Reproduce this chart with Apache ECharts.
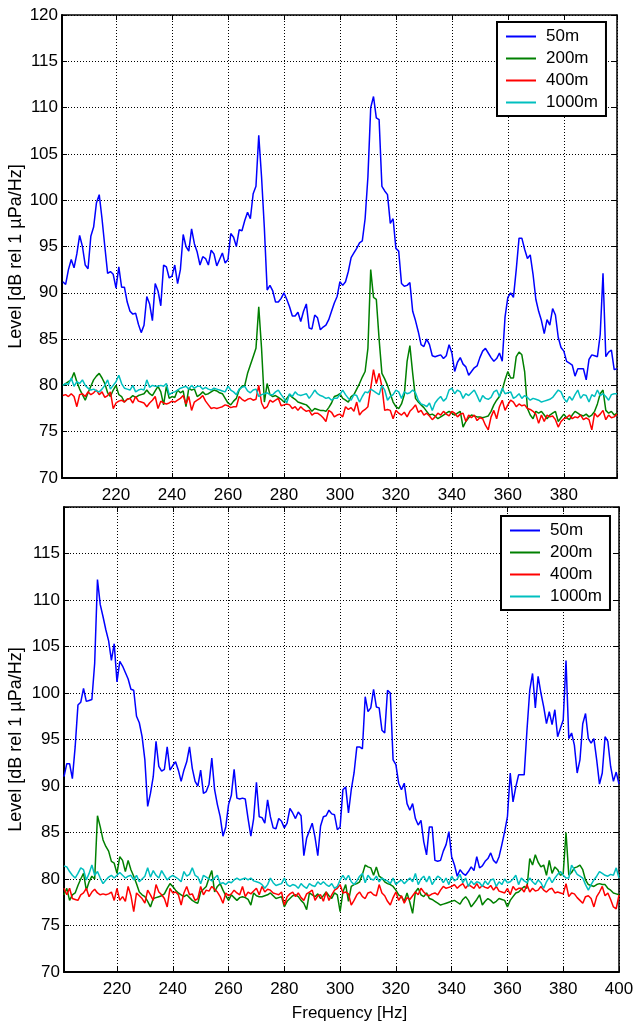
<!DOCTYPE html>
<html><head><meta charset="utf-8">
<script src="https://cdn.jsdelivr.net/npm/echarts@6/dist/echarts.min.js"></script>
<style>html,body{margin:0;padding:0;background:#fff}#c{width:635px;height:1025px}</style>
</head><body><div id="c"></div>
<script>
// ---------- data ----------
const seriesNames = ['50m', '200m', '400m', '1000m'];
const yTickValues = [70, 75, 80, 85, 90, 95, 100, 105, 110, 115, 120];
const xTickValues = [220, 240, 260, 280, 300, 320, 340, 360, 380, 400];
const topStartHz = 201;     // first frequency bin of the upper panel, 1 Hz steps
const bottomStartHz = 201;  // first frequency bin of the lower panel, 1 Hz steps

// upper panel (201..399 Hz)
const top50m = [
91.2,90.9,92.5,93.6,92.7,94.2,96.2,95.0,93.0,92.6,
96.1,97.1,99.7,100.6,98.0,95.0,92.1,92.3,92.0,90.5,
92.8,90.6,90.6,89.0,88.0,87.7,87.8,86.6,85.7,86.5,
89.6,88.8,87.0,91.0,90.2,88.6,93.0,92.8,91.6,91.8,
93.0,91.0,92.5,96.3,95.0,94.5,96.9,95.3,94.4,93.0,
93.9,93.7,93.0,94.6,94.2,92.9,93.6,94.3,93.2,93.6,
96.4,96.0,95.0,96.8,96.7,97.8,98.7,98.0,100.7,101.5,
107.0,102.5,97.0,90.3,90.8,90.2,89.0,89.0,89.4,90.0,
89.3,88.5,87.5,87.5,87.9,86.9,88.0,88.8,86.2,86.1,
87.6,87.3,86.0,86.3,86.5,87.1,88.0,88.9,89.6,91.2,
90.8,91.2,92.3,93.8,94.3,94.8,95.4,95.6,98.0,102.5,
110.0,111.2,108.9,108.7,101.5,101.0,100.6,97.5,98.0,94.8,
94.5,91.0,90.7,90.8,91.1,88.0,87.0,85.8,84.4,84.2,
85.0,84.4,83.2,83.1,83.2,83.3,82.9,83.2,84.4,83.5,
81.5,82.5,83.0,82.3,82.0,81.1,81.5,81.9,82.1,83.0,
83.7,84.0,83.5,83.0,82.6,82.9,83.5,82.6,87.4,89.5,
90.0,89.5,92.5,95.9,95.9,94.7,93.7,94.1,92.0,89.3,
88.0,87.0,85.6,87.1,86.5,88.3,87.6,85.2,84.1,83.7,
82.6,82.4,82.2,81.0,81.8,81.8,81.8,80.6,82.8,83.3,
83.2,83.1,85.5,92.1,83.1,83.6,83.8,81.7,81.8];
const top200m = [
80.0,80.2,80.4,80.6,81.4,80.4,79.6,79.0,78.4,79.2,
79.9,80.6,81.0,81.3,80.8,80.2,79.2,78.8,79.5,80.0,
79.0,78.8,78.2,78.5,78.6,78.9,78.7,78.9,79.0,79.1,
79.5,79.1,78.9,79.4,79.9,79.3,77.9,79.9,78.6,78.8,
78.7,79.5,79.2,79.4,77.7,79.7,79.5,79.6,78.8,79.0,
79.3,79.0,79.1,79.3,79.5,79.4,79.2,79.1,78.6,78.1,
77.9,78.3,78.6,79.5,79.9,80.0,81.3,82.2,83.1,84.0,
88.5,84.0,78.2,80.2,79.0,78.8,78.9,78.7,78.5,78.2,
78.6,79.0,78.7,78.5,78.2,78.1,78.0,77.9,77.6,77.2,
77.5,77.4,77.3,77.3,77.2,77.6,78.1,78.8,78.9,79.1,
78.6,78.4,78.2,78.8,79.0,79.6,80.2,80.9,81.5,84.0,
92.5,89.5,89.3,85.0,81.3,80.7,80.0,79.1,78.2,77.7,
77.5,78.0,79.0,82.6,84.3,81.3,78.6,78.2,77.9,77.6,
77.2,76.8,76.9,76.7,76.4,76.6,76.8,77.0,77.2,77.0,
76.8,77.0,77.2,75.5,76.1,76.5,76.8,76.7,76.6,76.6,
76.5,76.6,76.7,77.2,77.9,78.4,78.8,79.5,80.6,81.5,
80.8,80.8,83.1,83.6,83.3,81.5,77.5,76.8,76.4,77.2,
77.0,77.2,76.8,76.4,76.8,77.0,77.2,76.1,76.5,76.9,
76.5,76.3,76.8,77.2,77.0,76.8,76.7,76.9,76.6,76.8,
77.2,78.0,79.1,79.5,77.3,77.0,77.2,76.8,77.0];
const top400m = [
78.9,79.0,78.8,79.1,78.8,77.7,79.0,79.1,78.8,79.3,
79.0,79.2,79.5,79.0,79.3,78.7,78.9,79.3,77.5,78.1,
78.3,78.4,78.2,78.5,78.6,78.1,78.8,78.3,78.2,78.1,
77.7,78.1,78.4,78.8,77.5,78.3,78.1,78.0,78.1,78.3,
78.2,78.4,78.6,78.9,78.0,78.8,77.3,78.2,78.4,78.6,
78.9,78.3,77.9,77.5,77.6,77.5,77.6,77.7,77.9,77.8,
77.6,77.7,77.7,78.8,78.5,78.3,78.5,78.6,78.4,78.5,
80.0,78.1,77.5,77.7,78.4,78.2,78.4,78.6,77.8,77.9,
78.0,77.9,77.5,77.7,77.3,77.7,77.4,77.2,77.3,76.8,
77.0,77.0,76.8,76.5,76.1,77.3,77.1,76.6,76.8,76.9,
76.6,77.7,77.4,77.6,77.2,78.2,76.8,77.2,77.4,77.7,
79.7,81.7,80.2,81.3,79.9,77.3,77.4,77.3,76.4,77.3,
77.0,76.8,77.1,76.6,77.2,77.5,77.9,77.1,77.3,76.8,
77.0,76.7,76.3,76.6,77.0,76.8,77.2,76.9,76.7,77.2,
77.0,76.6,76.9,77.0,76.1,76.8,76.5,76.8,76.2,76.5,
76.4,75.7,75.2,76.6,77.3,76.4,77.7,78.4,77.3,77.9,
78.4,78.2,77.7,78.0,77.8,77.9,77.5,77.4,77.2,76.9,
75.9,76.8,76.1,76.8,76.6,76.7,76.3,75.5,76.1,76.4,
76.5,76.8,76.4,76.6,76.5,76.8,76.3,76.5,76.3,75.2,
77.0,76.6,76.9,77.3,76.3,76.8,76.5,76.6,76.9];
const top1000m = [
80.0,80.2,80.1,80.8,79.9,80.4,80.2,80.6,80.0,79.7,
79.5,79.6,79.4,79.3,79.6,80.0,80.6,79.6,80.0,80.4,
81.1,80.2,79.7,79.6,79.5,80.0,79.3,79.5,79.6,79.5,
80.6,79.8,80.0,79.9,79.9,80.0,79.9,80.2,79.0,79.2,
79.3,79.5,79.7,79.8,79.9,79.6,80.0,79.7,79.9,79.9,
79.6,79.8,79.6,79.5,79.7,79.6,79.5,79.4,79.3,79.9,
79.5,79.3,79.0,79.6,79.8,79.9,79.4,79.2,79.5,79.6,
78.8,79.0,79.1,79.2,79.0,79.0,79.3,79.5,79.0,78.6,
78.1,79.1,78.8,79.3,79.0,78.9,79.0,79.1,78.6,79.0,
79.5,79.1,78.9,78.8,78.6,78.7,78.4,78.6,78.6,79.0,
79.5,79.0,78.6,78.4,79.0,78.9,78.2,78.8,79.3,79.2,
79.6,79.4,79.2,79.0,80.0,79.5,78.4,78.8,79.0,79.5,
79.3,78.6,79.3,79.1,79.2,79.5,79.2,78.4,78.0,77.9,
77.7,78.1,77.3,78.1,78.5,78.8,78.3,78.6,79.5,79.7,
79.1,79.5,79.3,78.6,79.1,78.9,79.2,79.5,78.9,78.2,
78.9,78.6,78.5,78.7,79.3,79.5,78.8,79.7,79.1,79.2,
79.3,78.6,78.8,79.1,78.6,78.9,78.7,78.4,78.6,78.5,
78.4,78.2,78.3,78.4,78.5,78.7,79.1,79.5,79.3,78.6,
78.2,78.8,78.4,79.0,79.5,78.6,79.0,78.9,78.2,79.0,
78.8,79.5,78.9,79.1,78.8,78.4,79.0,79.1,79.1];

// lower panel (201..400 Hz)
const bottom50m = [
91.0,92.4,92.4,90.8,94.2,98.7,99.0,100.5,99.1,99.2,
99.3,103.2,112.2,109.5,108.2,106.8,105.6,103.5,105.3,101.2,
103.4,102.9,102.2,101.5,100.4,100.3,97.5,96.8,95.3,92.8,
87.8,89.2,91.0,94.8,92.1,91.6,91.8,94.2,91.7,92.2,
92.6,91.7,90.5,91.7,92.6,94.2,91.9,90.5,90.0,91.7,
89.2,89.4,90.2,93.0,89.6,88.0,86.7,84.6,85.6,88.0,
89.0,91.8,88.7,88.6,88.7,88.6,86.5,84.6,86.5,90.4,
86.7,86.6,86.0,88.5,86.7,85.5,85.4,86.5,86.2,85.5,
86.0,87.6,87.1,86.5,87.2,86.8,82.5,84.4,85.2,86.0,
84.5,82.5,85.7,86.7,86.8,87.4,87.0,86.9,85.3,85.6,
89.6,89.9,87.1,89.6,91.4,94.2,94.2,94.0,99.6,98.0,
98.4,100.4,98.5,98.4,96.0,95.7,100.3,100.0,92.8,92.3,
90.3,89.6,90.3,88.1,87.4,88.1,86.5,85.8,86.3,84.0,
82.6,85.6,85.6,82.0,81.9,82.0,83.0,83.7,85.1,82.4,
81.5,80.3,81.0,80.6,80.4,80.8,81.3,80.9,82.4,81.2,
81.4,81.9,82.2,82.8,82.0,81.7,82.4,83.7,85.1,86.7,
91.4,88.3,89.9,91.2,91.2,91.2,96.0,100.3,102.1,98.4,
101.8,100.0,98.5,96.7,98.0,96.6,98.2,95.3,96.2,97.1,
103.5,95.1,95.7,94.4,91.4,92.8,96.7,97.8,95.1,94.6,
95.1,92.8,90.2,91.4,95.3,94.8,92.1,90.5,91.5,90.2];
const bottom200m = [
78.3,79.0,77.7,78.3,78.5,79.3,80.0,80.6,78.8,79.7,
80.3,80.0,86.8,85.6,84.2,83.5,83.0,81.9,81.7,80.6,
82.4,82.0,80.8,82.0,81.0,80.3,79.5,78.6,78.3,78.1,
77.6,77.0,77.9,78.0,78.1,78.2,78.4,79.0,79.5,79.2,
78.8,78.5,78.3,78.1,78.3,78.0,77.7,77.5,77.4,78.6,
78.9,79.2,80.1,80.9,78.6,79.2,79.5,78.8,78.2,77.7,
78.3,78.0,77.7,78.0,78.1,78.0,77.8,77.2,78.5,78.2,
78.1,78.1,78.2,78.3,78.5,78.2,77.9,78.0,78.1,77.0,
77.6,77.9,78.2,78.3,78.1,77.7,77.4,76.7,78.5,78.3,
78.1,78.4,77.9,78.2,78.6,78.2,77.9,78.5,78.3,76.5,
78.6,79.4,77.6,79.2,79.4,79.5,79.7,80.5,81.5,81.3,
81.2,80.4,81.3,80.3,80.1,79.7,79.5,79.4,79.2,78.8,
78.3,78.1,77.6,78.5,77.5,76.3,78.6,79.0,78.3,78.1,
78.5,77.9,77.8,77.6,77.4,77.2,77.3,77.4,77.5,77.6,
77.7,77.5,77.3,77.8,78.1,77.7,77.0,77.4,77.8,78.3,
77.2,77.6,77.9,77.7,77.4,77.6,77.9,77.8,77.7,77.0,
77.7,78.1,78.5,78.6,78.9,79.2,79.0,82.2,81.5,82.6,
81.8,81.3,81.5,80.4,82.0,80.6,81.3,81.0,80.4,80.6,
85.0,80.4,80.7,81.2,81.3,81.5,81.0,79.9,79.4,79.3,
79.2,79.4,79.5,79.4,79.4,79.0,78.8,78.5,78.4,78.3];
const bottom400m = [
79.0,78.3,79.0,77.9,77.8,77.7,78.3,78.5,79.0,78.1,
78.6,78.9,78.5,78.3,78.4,78.3,78.4,78.6,77.7,79.0,
77.7,78.1,77.6,79.2,78.2,76.5,78.5,78.2,77.9,77.4,
78.8,78.3,77.7,79.4,78.6,78.3,77.9,77.0,79.0,78.5,
78.6,78.3,77.2,78.5,79.2,78.3,78.4,77.7,77.9,79.2,
78.3,78.8,78.7,79.2,78.9,78.6,78.1,77.4,78.5,78.2,
78.4,78.8,78.5,78.3,79.2,78.1,78.6,78.4,78.7,79.0,
78.3,79.2,78.6,78.9,78.8,78.5,78.4,78.3,78.6,77.2,
78.1,78.4,78.6,78.1,78.5,78.0,77.7,78.4,78.6,78.8,
77.7,78.2,78.3,77.6,78.6,77.7,78.3,78.8,79.0,79.4,
78.5,78.6,78.4,77.2,77.7,78.3,78.6,78.1,77.9,78.5,
78.6,78.3,78.2,79.4,78.5,78.2,77.6,77.2,78.0,78.6,
77.7,78.2,77.4,78.0,77.8,78.2,78.6,78.3,79.0,78.6,
78.3,78.2,78.4,78.5,78.3,78.8,79.2,79.0,79.1,79.2,
79.4,79.0,79.3,79.5,79.0,79.4,79.2,79.0,79.5,79.0,
79.3,79.1,79.0,79.3,78.8,79.2,78.7,78.6,78.5,79.0,
78.3,79.2,78.8,79.0,79.0,78.6,79.4,78.6,79.0,78.7,
78.8,79.2,78.8,78.6,78.9,79.0,78.5,78.6,78.5,78.4,
79.5,78.1,78.5,78.4,78.0,77.7,77.4,78.1,78.2,77.9,
77.0,78.1,78.6,79.2,78.2,78.5,77.8,77.0,76.8,78.3];
const bottom1000m = [
81.4,81.3,80.8,80.4,80.1,80.6,81.2,81.0,79.9,80.6,
81.5,80.4,80.8,80.1,79.5,79.9,80.2,80.4,80.1,80.4,
80.7,80.4,80.1,80.3,80.4,79.9,80.4,79.7,80.0,80.3,
81.2,80.2,80.9,80.4,80.1,80.9,80.4,79.9,80.2,80.4,
80.2,80.0,79.7,80.8,80.3,80.5,81.2,80.4,80.2,79.5,
80.4,80.2,80.0,79.8,80.1,80.4,79.5,79.6,79.4,79.7,
79.6,79.9,80.1,79.9,80.0,80.1,79.9,80.1,79.8,79.7,
79.6,79.4,79.0,79.4,80.1,79.6,79.3,79.4,79.5,80.1,
79.4,79.2,79.4,79.3,79.0,79.5,79.2,79.0,79.5,79.3,
79.2,79.7,79.4,79.7,79.4,79.2,79.5,79.0,79.2,79.9,
80.4,79.9,80.4,79.7,79.4,79.8,80.3,80.6,79.6,80.4,
80.0,79.9,80.3,79.7,80.1,79.9,79.8,79.5,80.1,79.4,
79.7,79.9,79.5,79.8,80.1,79.7,80.6,79.4,80.0,80.3,
79.7,80.3,79.4,79.9,80.3,80.1,79.6,80.1,79.4,80.3,
79.8,80.0,80.5,79.6,80.1,79.2,79.8,79.4,79.7,79.6,
79.2,79.8,79.4,79.9,80.0,79.2,79.7,79.4,80.0,79.6,
79.7,80.0,80.4,79.4,80.1,79.8,79.6,80.1,79.7,79.4,
79.9,79.6,79.0,79.7,80.2,79.6,80.1,80.5,80.8,80.4,
80.1,80.1,81.5,81.0,80.5,80.3,80.1,79.4,78.8,79.4,
79.9,80.3,80.8,80.6,80.4,80.3,80.5,80.4,81.2,80.1];

// ---------- styling ----------
const seriesColors = ['#0000ff', '#008000', '#ff0000', '#00bfbf'];
const FONT = 'Liberation Sans, Arial, Helvetica, sans-serif';
const topPanel = [top50m, top200m, top400m, top1000m];
const bottomPanel = [bottom50m, bottom200m, bottom400m, bottom1000m];
const toPairs = (arr, start) => arr.map((v, i) => [start + i, v]);

const gridDash = [1, 2];
function xAxisMain(gi, min, max, name) {
  return {
    gridIndex: gi, type: 'value', position: 'bottom', min: min, max: max,
    minInterval: 20, maxInterval: 20,
    axisLine: { show: true, onZero: false, lineStyle: { color: '#000', width: 2 } },
    axisTick: { show: true, inside: true, length: 5, lineStyle: { color: '#000', width: 1 } },
    axisLabel: {
      show: true, margin: 9, color: '#000', fontSize: 17, fontFamily: FONT,
      formatter: v => (xTickValues.indexOf(Math.round(v * 1000) / 1000) >= 0 ? String(Math.round(v)) : '')
    },
    splitLine: { show: true, lineStyle: { color: '#000', type: gridDash, width: 1 } },
    name: name || '', nameLocation: 'middle', nameGap: 33,
    nameTextStyle: { color: '#000', fontSize: 17, fontFamily: FONT, padding: [0, 0, 0, 16] }
  };
}
function xAxisTop(gi, min, max) {
  return {
    gridIndex: gi, type: 'value', position: 'top', min: min, max: max,
    minInterval: 20, maxInterval: 20,
    axisLine: { show: true, onZero: false, lineStyle: { color: '#000', width: 1.5 } },
    axisTick: { show: true, inside: true, length: 5, lineStyle: { color: '#000', width: 1 } },
    axisLabel: { show: false }, splitLine: { show: false }
  };
}
function yAxisMain(gi, showTopLabel, namePad, nameGap) {
  return {
    gridIndex: gi, type: 'value', position: 'left', min: 70, max: 120, interval: 5,
    axisLine: { show: true, onZero: false, lineStyle: { color: '#000', width: 2 } },
    axisTick: { show: true, inside: true, length: 5, lineStyle: { color: '#000', width: 1 } },
    axisLabel: {
      show: true, margin: 4, color: '#000', fontSize: 17, fontFamily: FONT,
      formatter: v => (yTickValues.indexOf(v) >= 0 && (showTopLabel || v !== 120) ? String(v) : '')
    },
    splitLine: { show: true, lineStyle: { color: '#000', type: gridDash, width: 1 } },
    name: 'Level [dB rel 1 µPa/Hz]', nameLocation: 'middle', nameGap: nameGap,
    nameMoveOverlap: false,
    nameTextStyle: { color: '#000', fontSize: 18, fontFamily: FONT, padding: namePad }
  };
}
function yAxisRight(gi) {
  return {
    gridIndex: gi, type: 'value', position: 'right', min: 70, max: 120, interval: 5,
    axisLine: { show: true, onZero: false, lineStyle: { color: '#000', width: 1.5 } },
    axisTick: { show: true, inside: true, length: 5, lineStyle: { color: '#000', width: 1 } },
    axisLabel: { show: false }, splitLine: { show: false }
  };
}
function legendFor(left, top) {
  return {
    data: seriesNames, orient: 'vertical', left: left, top: top,
    backgroundColor: '#fff', borderColor: '#000', borderWidth: 2, borderRadius: 0,
    padding: [6, 8, 5, 9], icon: 'rect', itemWidth: 30, itemHeight: 2, itemGap: 5,
    selectedMode: false,
    textStyle: { color: '#000', fontSize: 17, fontFamily: FONT, padding: [0, 0, 0, 5] }
  };
}

const series = [];
[topPanel, bottomPanel].forEach((panel, p) => {
  panel.forEach((arr, k) => {
    series.push({
      name: seriesNames[k], type: 'line',
      xAxisIndex: p * 2, yAxisIndex: p * 2,
      data: toPairs(arr, p === 0 ? topStartHz : bottomStartHz),
      symbol: 'none', showSymbol: false, smooth: false,
      lineStyle: { color: seriesColors[k], width: 1.5 },
      itemStyle: { color: seriesColors[k] },
      z: 2 + k
    });
  });
});

const chart = echarts.init(document.getElementById('c'), null, { renderer: 'canvas' });
chart.setOption({
  animation: false,
  backgroundColor: '#fff',
  grid: [
    { left: 62, top: 15, width: 555, height: 463, containLabel: false, outerBoundsMode: 'none' },
    { left: 64, top: 507, width: 555, height: 465, containLabel: false, outerBoundsMode: 'none' }
  ],
  xAxis: [
    xAxisMain(0, 200.7, 399), xAxisTop(0, 200.7, 399),
    xAxisMain(1, 201, 400, 'Frequency [Hz]'), xAxisTop(1, 201, 400)
  ],
  yAxis: [
    yAxisMain(0, true, [0, 20, 0, 0], 37), yAxisRight(0),
    yAxisMain(1, false, [0, 0, 0, 0], 39), yAxisRight(1)
  ],
  legend: [legendFor(497, 22), legendFor(501, 516)],
  series: series
});
</script></body></html>
